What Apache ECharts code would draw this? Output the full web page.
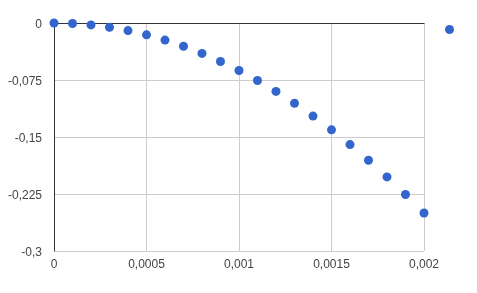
<!DOCTYPE html>
<html><head><meta charset="utf-8">
<script src="https://cdn.jsdelivr.net/npm/echarts@6/dist/echarts.min.js"></script>
<style>html,body{margin:0;padding:0;background:#fff}#c{width:477px;height:293px}</style>
</head><body><div id="c"></div>
<script>
const xValues = [0,0.0001,0.0002,0.0003,0.0004,0.0005,0.0006,0.0007,0.0008,0.0009,0.001,0.0011,0.0012,0.0013,0.0014,0.0015,0.0016,0.0017,0.0018,0.0019,0.002];
const yValues = [0,-0.0006,-0.0025,-0.0056,-0.01,-0.0156,-0.0225,-0.0306,-0.04,-0.0506,-0.0625,-0.0756,-0.09,-0.1056,-0.1225,-0.1406,-0.16,-0.1806,-0.2025,-0.2256,-0.25];
const xTickValues = [0,0.0005,0.001,0.0015,0.002];
const xTickLabels = ['0','0,0005','0,001','0,0015','0,002'];
const yTickValues = [0,-0.075,-0.15,-0.225,-0.3];
const yTickLabels = ['0','-0,075','-0,15','-0,225','-0,3'];
const seriesName = 'y';

function lookup(vals, labels, v){
  for (let i=0;i<vals.length;i++) if (Math.abs(vals[i]-v) < 1e-9) return labels[i];
  return '';
}
const chart = echarts.init(document.getElementById('c'), null, {renderer:'canvas'});
const font = {fontFamily:'Liberation Sans, Arial', fontSize:12, color:'#444'};
chart.setOption({
  animation:false,
  grid:{left:54, right:53, top:23, bottom:42},
  legend:{
    left:440, top:20, itemWidth:9, itemHeight:9, icon:'circle',
    data:[seriesName], formatter:()=>'', textStyle:{fontSize:1},
    itemGap:0
  },
  xAxis:[{
    type:'value', min:0, max:0.002, interval:0.0005, position:'bottom',
    axisLine:{show:false, onZero:false}, axisTick:{show:false},
    splitLine:{show:true, lineStyle:{color:'#cccccc', width:1}},
    axisLabel:Object.assign({margin:8, formatter:v=>lookup(xTickValues,xTickLabels,v)}, font)
  },{
    type:'value', min:0, max:0.002, position:'top',
    axisLine:{show:true, onZero:false, lineStyle:{color:'#333333', width:1}},
    axisTick:{show:false}, axisLabel:{show:false}, splitLine:{show:false}
  }],
  yAxis:{
    type:'value', min:-0.3, max:0, interval:0.075,
    axisLine:{show:true, onZero:false, lineStyle:{color:'#333333', width:1}},
    axisTick:{show:false},
    splitLine:{show:true, lineStyle:{color:'#cccccc', width:1}},
    axisLabel:Object.assign({margin:12, verticalAlign:'top', lineHeight:12, padding:[-4,0,0,0], formatter:v=>lookup(yTickValues,yTickLabels,v)}, font)
  },
  series:[{
    name:seriesName, type:'scatter', symbol:'circle', symbolSize:9,
    itemStyle:{color:'#3366cc', opacity:1},
    data:xValues.map((x,i)=>[x,yValues[i]])
  }]
});
</script></body></html>
